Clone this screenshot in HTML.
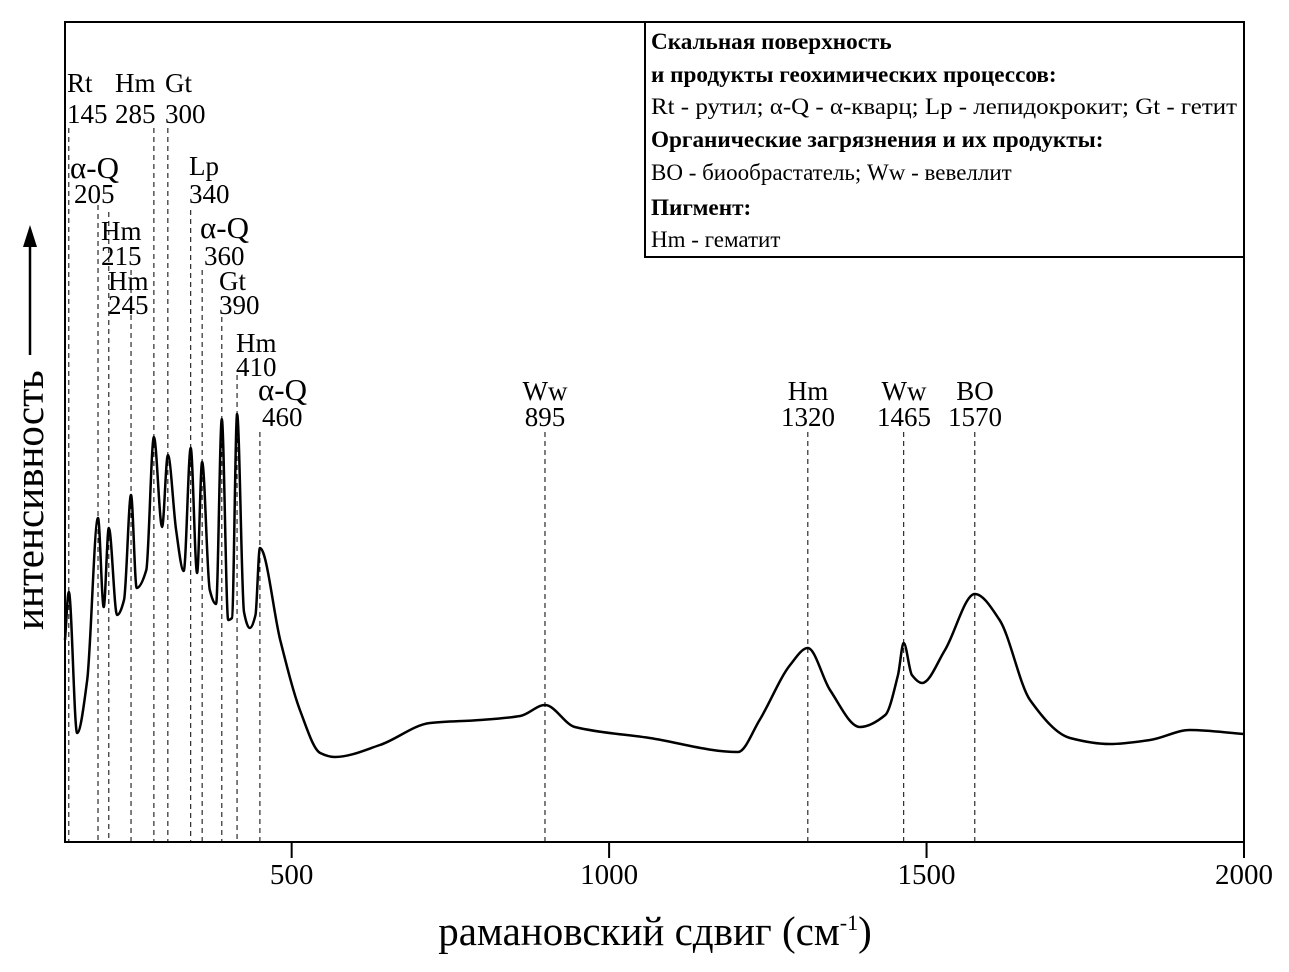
<!DOCTYPE html>
<html><head><meta charset="utf-8">
<style>
html,body{margin:0;padding:0;background:#fff;}
svg{display:block;font-family:"Liberation Serif","DejaVu Serif",serif;}
</style></head>
<body>
<svg id="chart" width="1289" height="972" viewBox="0 0 1289 972" xmlns="http://www.w3.org/2000/svg">
<rect x="0" y="0" width="1289" height="972" fill="#fff"/>
<g id="guides"></g>
<g id="labels"></g>
<path id="curve" fill="none" stroke="#000" stroke-width="2.5" stroke-linejoin="round"/>
<rect x="65" y="22" width="1179" height="820" fill="none" stroke="#000" stroke-width="2"/>
<g id="xticks"></g>
<text x="655" y="945" font-size="41" text-anchor="middle">рамановский сдвиг (см<tspan dy="-15" font-size="22">-1</tspan><tspan dy="15">)</tspan></text>
<g transform="translate(43,630) rotate(-90)">
<text x="0" y="0" font-size="41">интенсивность</text>
<line x1="275" y1="-13" x2="390" y2="-13" stroke="#000" stroke-width="2.5"/>
<polygon points="405,-13 383,-20 383,-6" fill="#000"/>
</g>
<g>
<rect x="645" y="22" width="599" height="235" fill="#fff" stroke="#000" stroke-width="2"/>
<text x="651" y="49" font-size="23.2" font-weight="bold">Скальная поверхность</text>
<text x="651" y="82" font-size="23.2" font-weight="bold">и продукты геохимических процессов:</text>
<text x="651" y="114" font-size="23" textLength="586" lengthAdjust="spacingAndGlyphs">Rt - рутил; α-Q - α-кварц; Lp - лепидокрокит; Gt - гетит</text>
<text x="651" y="147" font-size="23.2" font-weight="bold">Органические загрязнения и их продукты:</text>
<text x="651" y="180" font-size="23">BO - биообрастатель; Ww - вевеллит</text>
<text x="651" y="215" font-size="23.2" font-weight="bold">Пигмент:</text>
<text x="651" y="247" font-size="23">Hm - гематит</text>
</g>
</svg>
<script>
const waveNumbers = [143,149,162,178,195,204,212,225,236,247,256,271,283,296,305,318,330,341,351,359,371,381,390,400,406,414,425,434,443,450,482,513,545,568,639,718,797,860,899,946,1064,1203,1237,1285,1313,1348,1395,1435,1455,1464,1477,1493,1529,1576,1615,1663,1726,1789,1852,1915,2000];
const intensities = [202,250,109,162,324,235,314,227,242,347,254,272,405,315,387,312,271,394,269,380,252,238,423,222,224,428,230,214,227,294,202,132,89,85,97,119,122,126,137,115,104,90,122,177,194,152,115,127,167,199,167,159,192,248,222,142,104,98,102,112,108];
const tickValues = [500,1000,1500,2000];
const tickLabels = ["500","1000","1500","2000"];
const peakPositions = [149,195,212,247,283,305,341,359,390,414,450,899,1313,1464,1576];
const peakNames = ["Rt","α-Q","Hm","Hm","Hm","Gt","Lp","α-Q","Gt","Hm","α-Q","Ww","Hm","Ww","BO"];
const peakLabels = ["145","205","215","245","285","300","340","360","390","410","460","895","1320","1465","1570"];
// label layout (not data)
const labelLayout = [[67,92,123,128,"start"],[70,178,203,205,"start"],[101,240,265,212,"start"],[108,290,314,270,"start"],[115,92,123,128,"start"],[165,92,123,128,"start"],[189,175,203,210,"start"],[200,238,265,270,"start"],[219,290,314,317,"start"],[236,352,376,375,"start"],[258,400,426,432,"start"],[545,400,426,432,"middle"],[808,400,426,432,"middle"],[904,400,426,432,"middle"],[975,400,426,432,"middle"]];

const X0=65,X1=1244,V0=143,V1=2000,YB=842;
function xs(v){return X0+(v-V0)*(X1-X0)/(V1-V0);}
function ys(i){return YB-i;}
const NS="http://www.w3.org/2000/svg";

const px=waveNumbers.map(xs), py=intensities.map(ys);
const n=px.length, d=[], m=[];
for(let i=0;i<n-1;i++) d.push((py[i+1]-py[i])/(px[i+1]-px[i]));
m[0]=d[0]; m[n-1]=d[n-2];
for(let i=1;i<n-1;i++){ if(d[i-1]*d[i]<=0) m[i]=0; else { m[i]=2/(1/d[i-1]+1/d[i]); } }
let p="M"+px[0].toFixed(1)+","+py[0].toFixed(1);
for(let i=0;i<n-1;i++){const h=px[i+1]-px[i];
 p+=" C"+(px[i]+h/3).toFixed(1)+","+(py[i]+m[i]*h/3).toFixed(1)+" "+(px[i+1]-h/3).toFixed(1)+","+(py[i+1]-m[i+1]*h/3).toFixed(1)+" "+px[i+1].toFixed(1)+","+py[i+1].toFixed(1);}
document.getElementById('curve').setAttribute('d',p);

const gt=document.getElementById('xticks');
tickValues.forEach((t,k)=>{
 const l=document.createElementNS(NS,'line');
 l.setAttribute('x1',xs(t));l.setAttribute('x2',xs(t));l.setAttribute('y1',842);l.setAttribute('y2',858);
 l.setAttribute('stroke','#000');l.setAttribute('stroke-width','2');
 
 
 gt.appendChild(l);
 const tx=document.createElementNS(NS,'text');
 tx.setAttribute('x',xs(t));tx.setAttribute('y',884);tx.setAttribute('font-size','29');tx.setAttribute('text-anchor','middle');
 tx.textContent=tickLabels[k];
 
 
 gt.appendChild(tx);
});

const gg=document.getElementById('guides'), gl=document.getElementById('labels');
peakPositions.forEach((v,k)=>{
 const L=labelLayout[k];
 const ln=document.createElementNS(NS,'line');
 ln.setAttribute('x1',xs(v));ln.setAttribute('x2',xs(v));ln.setAttribute('y1',L[3]);ln.setAttribute('y2',842);
 ln.setAttribute('stroke','#000');ln.setAttribute('stroke-width','1');ln.setAttribute('stroke-dasharray','5,4');
 
 
 gg.appendChild(ln);
 const big=peakNames[k]==="α-Q";
 const t1=document.createElementNS(NS,'text');
 t1.setAttribute('x',L[0]);t1.setAttribute('y',L[1]);t1.setAttribute('font-size',big?'31':'27');t1.setAttribute('text-anchor',L[4]);
 t1.textContent=peakNames[k];
 
 
 gl.appendChild(t1);
 const t2=document.createElementNS(NS,'text');
 t2.setAttribute('x',L[0]+(big&&L[4]==="start"?4:0));t2.setAttribute('y',L[2]);t2.setAttribute('font-size','27');t2.setAttribute('text-anchor',L[4]);
 t2.textContent=peakLabels[k];
 
 
 gl.appendChild(t2);
});
</script>
</body></html>
